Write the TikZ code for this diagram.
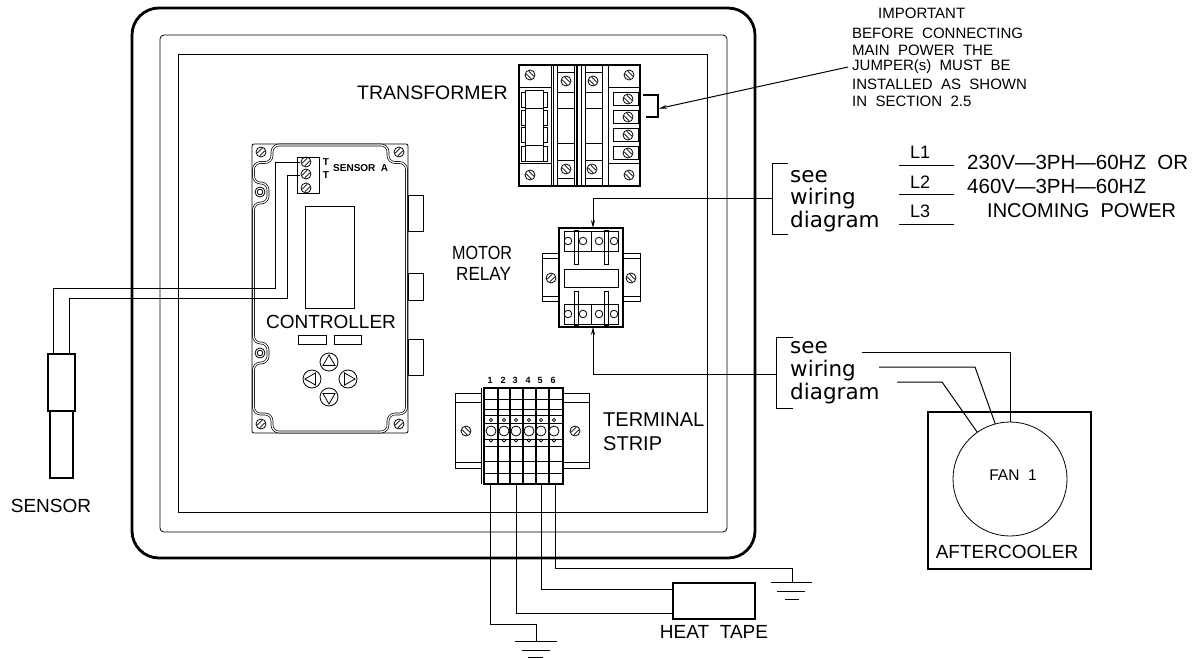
\documentclass[tikz,border=0pt]{standalone}
\usepackage{fontspec}
\setmainfont{Liberation Sans}
\newfontfamily\wirefont{DejaVu Sans}
\usetikzlibrary{arrows.meta}
\usetikzlibrary{positioning}

\newcommand{\lblsize}{\fontsize{19}{22}\selectfont}
\newcommand{\notesize}{\fontsize{15}{17}\selectfont}
\tikzset{
  thin line/.style={line width=.8pt},
  wire/.style={line width=1pt},
  heavy/.style={draw,line width=2.8pt,inner sep=0pt,outer sep=0pt},
  part/.style={draw,line width=.8pt,inner sep=0pt,outer sep=0pt},
  lbl/.style={font=\lblsize,inner sep=0pt},
  note/.style={font=\notesize,inner sep=0pt,anchor=west},
  seelbl/.style={font=\wirefont\fontsize{21.5}{22}\selectfont,inner sep=0pt,anchor=west},
  pwrlbl/.style={font=\fontsize{20.5}{22}\selectfont,inner sep=0pt,anchor=west},
  tiny/.style={font=\bfseries\fontsize{10}{10}\selectfont,inner sep=0pt},
  tip/.style={-{Stealth[length=8pt,width=4pt]},wire},
  screw/.pic={
    \draw[thin line] (0,0) circle (5);
    \draw[line width=.7pt] (-3.8,1.2)--(1.2,-3.8) (-1.2,3.8)--(3.8,-1.2);
  },
  screwb/.pic={
    \draw[thin line] (0,0) circle (5);
    \draw[line width=.7pt] (-3.8,-1.2)--(1.2,3.8) (-1.2,-3.8)--(3.8,1.2);
  }
}

\begin{document}
\begin{tikzpicture}[x=1pt,y=-1pt]
\useasboundingbox (0,0) rectangle (1199,658);

% panel
\node (panel) [heavy,minimum width=623pt,minimum height=550pt,rounded corners=27pt] at (443.5,283) {};
\node (door) [part,minimum width=567pt,minimum height=497pt,rounded corners=4pt] at (443.5,283.5) {};
\node (plate) [part,minimum width=529pt,minimum height=458pt] at (442.5,283) {};

% transformer
\node (xfmr) [heavy,minimum width=121pt,minimum height=121pt] at (579.5,125.5) {};
\node (xfmrlbl) [lbl,left=11pt of xfmr.west,yshift=33pt,font=\fontsize{19.5}{22}\selectfont] {TRANSFORMER};
\draw[thin line] (551,65)--(551,186) (553,65)--(553,186) (557,65)--(557,186)
  (574,65)--(574,186) (581,65)--(581,186) (585,65)--(585,186)
  (602,65)--(602,186) (608,65)--(608,186);
\draw[line width=1.6pt] (577,65)--(577,186);
\draw[thin line] (519,87)--(551,87) (519,163)--(551,163) (608,87)--(640,87) (608,163)--(640,163);
\foreach \x in {557,585} {
  \draw[thin line] (\x,72)--(\x+17,72) (\x,92)--(\x+17,92) (\x,108)--(\x+17,108)
    (\x,143)--(\x+17,143) (\x,160)--(\x+17,160) (\x,178)--(\x+17,178);
}
\draw[thin line] (525,90) rectangle (543,161) (525,108)--(543,108) (525,145)--(543,145);
\foreach \y in {92,110,127,146} {
  \draw[thin line] (525,\y)--(521,\y)--(521,\y+15)--(525,\y+15)
    (543,\y)--(547,\y)--(547,\y+15)--(543,\y+15);
}
\foreach \y in {92,110,128,146} {
  \draw[thin line] (613,\y) rectangle (638,\y+13);
  \pic at (628,\y+7) {screwb};
}
\foreach \x/\y in {530/75,629/75,566/81,593/81,530/175,629/175,566/169,592/169} {
  \pic at (\x,\y) {screwb};
}
\coordinate (jumpa) at (643,95);
\coordinate (jumpb) at (658,95);
\coordinate (jumpc) at (658,117);
\coordinate (jumpd) at (646,117);
\draw[line width=1.8pt] (jumpa)--(jumpb)--(jumpc)--(jumpd);
\coordinate (jumptip) at (659,108.5);
\coordinate (notetail) at (848,67);
\draw[tip] (notetail)--(jumptip);

% note
\node (n1) [note] at (878,13) {IMPORTANT};
\node (n2) [note] at (852,33) {BEFORE\ \ CONNECTING};
\node (n3) [note] at (852,50) {MAIN\ \ POWER\ \ THE};
\node (n4) [note] at (852,67) {JUMPER(s)\ \ MUST\ \ BE};
\node (n5) [note] at (852,84) {INSTALLED\ \ AS\ \ SHOWN};
\node (n6) [note] at (852,101) {IN\ \ SECTION\ \ 2.5};

% controller
\node (ctrl) [part,minimum width=156pt,minimum height=289pt,rounded corners=2pt] at (330,288.5) {};
\draw[line width=.7pt,double,double distance=1.2pt,rounded corners=7pt]
  (272,145)--(388,145)--(388,162.5)--(406.5,162.5)--(406.5,414)--(388,414)--(388,432)
  --(272,432)--(272,414)--(253.5,414)--(253.5,363)--(268,363)--(268,343)--(253.5,343)
  --(253.5,203)--(268,203)--(268,183)--(253.5,183)--(253.5,162.5)--(272,162.5)--cycle;
\foreach \x/\y in {261/152,399/152,261/424,399/424} {
  \pic at (\x,\y) {screw};
}
\foreach \y in {192,353} {
  \draw[thin line] (260,\y) circle (5) (260,\y) circle (2.8);
}
\node (tblock) [part,minimum width=22pt,minimum height=36pt] at (308,175) {};
\foreach \y in {162,174,188} {
  \pic at (306,\y) {screw};
}
\node (t1) [tiny] at (326,162) {T};
\node (t2) [tiny] at (326,175) {T};
\node (sensa) [tiny,anchor=west] at (333,168) {SENSOR\ \ A};
\node (display) [part,minimum width=49pt,minimum height=102pt] at (329.5,257) {};
\node (ctrllbl) [lbl] at (331,322) {CONTROLLER};
\node (softa) [part,minimum width=28pt,minimum height=9pt] at (312,339.5) {};
\node (softb) [part,minimum width=27pt,minimum height=9pt] at (347.5,339.5) {};
\foreach \n/\x/\y/\a in {up/329/362/90,lft/312/379/180,rgt/348/379/0,dwn/329/397/270} {
  \node (\n) [part,circle,minimum size=18pt] at (\x,\y) {};
  \draw[thin line] ([shift={(\x,\y)}]\a:7pt)--([shift={(\x,\y)}]\a+120:7pt)--([shift={(\x,\y)}]\a+240:7pt)--cycle;
}
\foreach \n/\y/\h in {taba/213/36,tabb/286.5/27,tabc/357/36} {
  \node (\n) [part,minimum width=15pt,minimum height=\h pt] at (415.5,\y) {};
}

% sensor
\node (sensup) [heavy,minimum width=27pt,minimum height=57pt] at (61.5,382.5) {};
\node (senslow) [heavy,minimum width=23pt,minimum height=67pt] at (61.5,444.5) {};
\node (senslbl) [lbl,below=21pt of senslow,xshift=-10.5pt] {SENSOR};
\coordinate (sa) at (53,354);
\coordinate (sb) at (69,354);
\coordinate (ta) at (300,162);
\coordinate (tb) at (300,175);
\coordinate (ca) at (53,288);
\coordinate (cb) at (275,288);
\coordinate (cc) at (69,298);
\coordinate (cd) at (287,298);
\draw[wire] (sa)--(ca)--(cb)--(cb|-ta)--(ta);
\draw[wire] (sb)--(cc)--(cd)--(cd|-tb)--(tb);

% motor relay
\node (relay) [heavy,minimum width=64pt,minimum height=99pt] at (591,277.5) {};
\node (motorlbl) [lbl,anchor=west] at (452,253) {\scalebox{.85}[1]{MOTOR}};
\node (relaylbl) [lbl,anchor=west] at (456,274) {\scalebox{.9}[1]{RELAY}};
\node (flangl) [part,minimum width=17pt,minimum height=48pt] at (550.5,277) {};
\node (flangr) [part,minimum width=17pt,minimum height=48pt] at (631.5,277) {};
\draw[thin line] (542,258)--(559,258) (542,296)--(559,296) (623,258)--(640,258) (623,296)--(640,296);
\pic at (551,278) {screw};
\pic at (631,278) {screwb};
\node (coil) [part,minimum width=54pt,minimum height=18pt] at (591,278) {};
\foreach \y/\yc in {231/241,304/314} {
  \draw[thin line] (564,\y) rectangle (618,\y+20);
}
\foreach \x in {568,583,599,614} {
  \draw[thin line] (\x,241) circle (3.8) (\x,314) circle (3.8);
}
\draw[thin line] (574,230) rectangle (578,264) (604,230) rectangle (608,264)
  (574,291) rectangle (578,325) (604,291) rectangle (608,325)
  (591,231)--(591,251) (591,304)--(591,324);

% terminal strip
\node (strip) [heavy,minimum width=79pt,minimum height=96pt] at (523.5,436) {};
\node (striplbl) [anchor=west,font=\fontsize{20}{23}\selectfont,inner sep=0pt,align=left] at (603,432) {TERMINAL\\[1pt]STRIP};
\draw[thin line] (481,388)--(481,484);
\foreach \x in {498,510,523,536} {
  \draw[line width=1.1pt] (\x,388)--(\x,484);
}
\draw[line width=1.6pt] (549,388)--(549,484);
\foreach \y in {399,409,415,423,439,446,461,473} {
  \draw[thin line] (484,\y)--(563,\y);
}
\foreach \n/\x in {1/491,2/504,3/516,4/529,5/541,6/554} {
  \node (num\n) [tiny,font=\bfseries\fontsize{9}{9}\selectfont] at (\x-1,380) {\n};
  \draw[fill=white,thin line] (\x,431) circle (5);
  \draw[fill=white,line width=.6pt] (\x,420) circle (1.6) (\x,440.5) circle (1.6);
}
\node (raill) [part,minimum width=26pt,minimum height=75pt] at (468,430.5) {};
\node (railr) [part,minimum width=26pt,minimum height=75pt] at (576,430.5) {};
\draw[thin line] (455,402)--(481,402) (455,462)--(481,462) (563,402)--(589,402) (563,462)--(589,462);
\pic at (466,431) {screwb};
\pic at (575,431) {screw};

% heat tape
\node (tape) [heavy,minimum width=82pt,minimum height=36pt] at (714,601) {};
\node (tapelbl) [lbl,below=6pt of tape] {HEAT\ \ TAPE};

% grounds
\coordinate (gnda) at (536,641);
\coordinate (gndb) at (792,582);
\draw[wire] (515,641)--(557,641) (522,650)--(550,650) (528,657.5)--(543,657.5);
\draw[wire] (771,582)--(812,582) (777,591)--(805,591) (785,599)--(799,599);
\coordinate (pa) at (490,484);
\coordinate (pb) at (516,484);
\coordinate (pc) at (541,484);
\coordinate (pd) at (555,484);
\coordinate (qa) at (490,624);
\coordinate (qb) at (536,624);
\coordinate (qc) at (516,613);
\coordinate (qd) at (541,589);
\coordinate (qe) at (555,568);
\coordinate (qf) at (792,568);
\draw[wire] (pa)--(qa)--(qb)--(gnda);
\draw[wire] (pb)--(qc)--(qc-|tape.west);
\draw[wire] (pc)--(qd)--(qd-|tape.west);
\draw[wire] (pd)--(qe)--(qf)--(gndb);

% see wiring diagram, power
\coordinate (bra) at (788,163);
\coordinate (brb) at (772,163);
\coordinate (brc) at (772,234);
\coordinate (brd) at (788,234);
\coordinate (brm) at (772,198);
\draw[wire] (bra)--(brb)--(brc)--(brd);
\draw[tip] (brm)--(593,198)--(relay.north-|593,0);
\node (see1) [seelbl] at (790,177) {see};
\node (wir1) [seelbl] at (790,199) {wiring};
\node (dia1) [seelbl] at (790,222) {diagram};
\foreach \n/\yl/\yr in {1/152/165,2/182/194,3/211/224} {
  \node (l\n) [lbl,font=\fontsize{18}{18}\selectfont] at (920,\yl) {L\n};
  \coordinate (la\n) at (899,\yr);
  \coordinate (lb\n) at (954,\yr);
  \draw[wire] (la\n)--(lb\n);
}
\node (pwra) [pwrlbl] at (967,162) {230V---3PH---60HZ\ \ OR};
\node (pwrb) [pwrlbl] at (967,186) {460V---3PH---60HZ};
\node (pwrc) [pwrlbl,font=\fontsize{20}{22}\selectfont] at (987,211) {INCOMING\ \ POWER};

% aftercooler
\node (cooler) [heavy,minimum width=163pt,minimum height=157pt] at (1009.5,490.5) {};
\node (fan) [part,circle,minimum size=114pt] at (1010,479) {};
\node (fanlbl) [font=\fontsize{15.5}{16}\selectfont,inner sep=0pt] at (1013,475) {FAN\ \ 1};
\node (coollbl) [lbl] at (1007,552) {AFTERCOOLER};
\coordinate (bsa) at (793,337);
\coordinate (bsb) at (776,337);
\coordinate (bsc) at (776,408);
\coordinate (bsd) at (793,408);
\coordinate (bsm) at (776,374);
\draw[wire] (bsa)--(bsb)--(bsc)--(bsd);
\draw[tip] (bsm)--(593,374)--(relay.south-|593,0);
\node (see2) [seelbl] at (790,348) {see};
\node (wir2) [seelbl] at (790,371) {wiring};
\node (dia2) [seelbl] at (790,394) {diagram};
\coordinate (fa) at (862,352);
\coordinate (fb) at (1010,352);
\coordinate (fc) at (879,367);
\coordinate (fd) at (975,367);
\coordinate (fe) at (897,382);
\coordinate (ff) at (942,382);
\draw[wire] (fa)--(fb)--(fan.90);
\draw[wire] (fc)--(fd)--(fan.105);
\draw[wire] (fe)--(ff)--(fan.125);
\end{tikzpicture}
\end{document}
